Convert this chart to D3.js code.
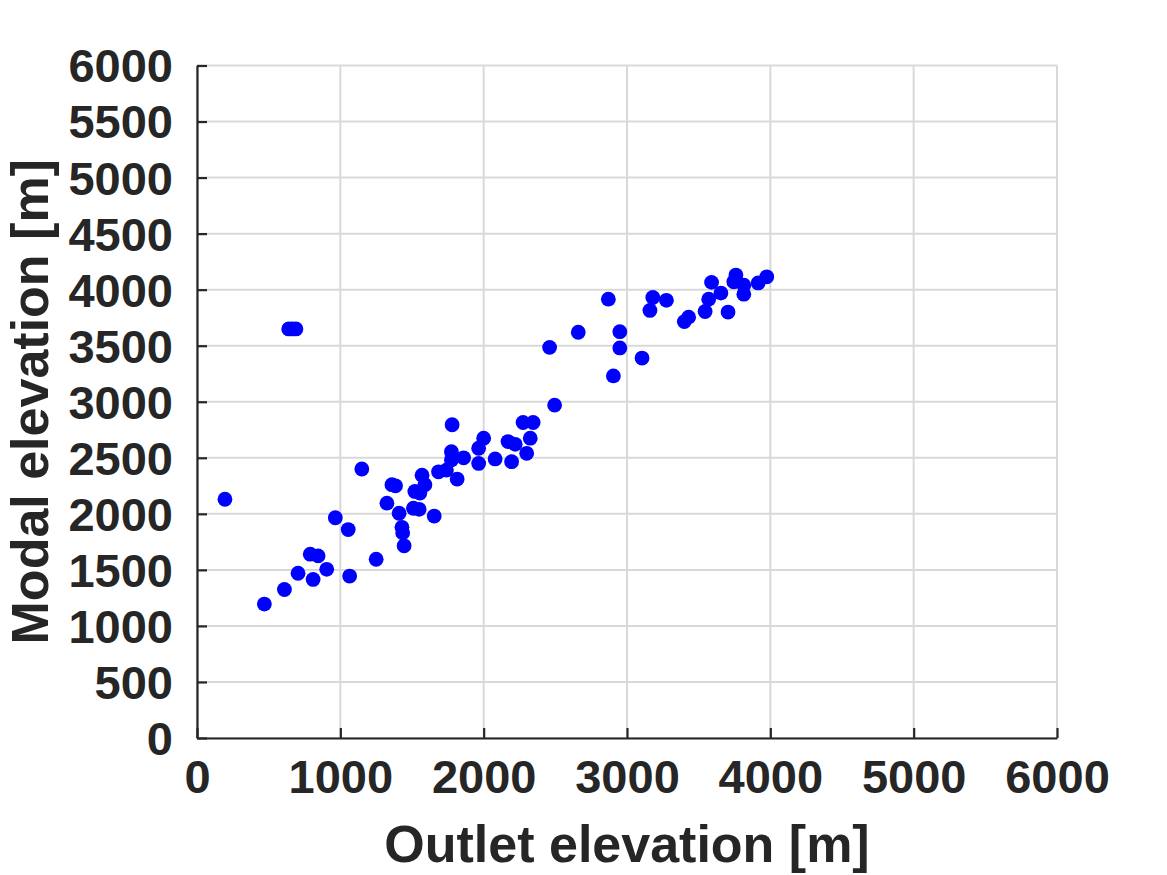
<!DOCTYPE html>
<html>
<head>
<meta charset="utf-8">
<script src="https://cdn.jsdelivr.net/npm/d3@7"></script>
<style>
  html, body { margin: 0; padding: 0; background: #ffffff; }
  svg { display: block; }
  text { font-family: "Liberation Sans", Arial, Helvetica, sans-serif; font-weight: bold; fill: #262626; }
</style>
</head>
<body>
<svg id="chart" width="1167" height="875"></svg>
<script>
// Data
const outletElevation = [195, 470, 610, 640, 665, 690, 705, 790, 810, 845, 905, 965, 1055, 1065, 1150, 1250, 1325, 1360, 1385, 1410, 1430, 1435, 1445, 1510, 1550, 1520, 1555, 1590, 1570, 1655, 1685, 1740, 1775, 1775, 1780, 1815, 1860, 1965, 1965, 2000, 2080, 2170, 2220, 2195, 2300, 2325, 2275, 2345, 2495, 2460, 2660, 2870, 2950, 2950, 2905, 3105, 3180, 3275, 3160, 3400, 3430, 3545, 3570, 3590, 3655, 3705, 3760, 3745, 3815, 3815, 3915, 3975];
const modalElevation = [2130, 1195, 1325, 3650, 3650, 3650, 1470, 1640, 1415, 1625, 1505, 1965, 1860, 1445, 2400, 1595, 2095, 2260, 2250, 2005, 1880, 1830, 1715, 2050, 2040, 2200, 2185, 2260, 2345, 1980, 2375, 2390, 2480, 2555, 2795, 2310, 2500, 2585, 2450, 2675, 2490, 2645, 2620, 2465, 2540, 2675, 2815, 2815, 2970, 3485, 3620, 3915, 3625, 3480, 3230, 3390, 3930, 3905, 3815, 3715, 3755, 3805, 3915, 4065, 3970, 3800, 4130, 4070, 4040, 3960, 4060, 4115];
const xTicks = [0, 1000, 2000, 3000, 4000, 5000, 6000];
const yTicks = [0, 500, 1000, 1500, 2000, 2500, 3000, 3500, 4000, 4500, 5000, 5500, 6000];
const xLabel = "Outlet elevation [m]";
const yLabel = "Modal elevation [m]";

(function () {
const points = outletElevation.map((v, i) => ({ x: v, y: modalElevation[i] }));

const svg = d3.select("#chart");
const pLeft = 197, pRight = 1057, pTop = 65.5, pBottom = 738;

const x = d3.scaleLinear().domain([0, 6000]).range([pLeft, pRight]);
const y = d3.scaleLinear().domain([0, 6000]).range([pBottom, pTop]);

// grid
const grid = svg.append("g");
grid.selectAll("line.gx").data(xTicks).join("line").attr("class", "gx")
  .attr("x1", d => x(d)).attr("x2", d => x(d))
  .attr("y1", pTop).attr("y2", pBottom)
  .attr("stroke", "#d9d9d9").attr("stroke-width", 2);
grid.selectAll("line.gy").data(yTicks).join("line").attr("class", "gy")
  .attr("x1", pLeft).attr("x2", pRight)
  .attr("y1", d => y(d)).attr("y2", d => y(d))
  .attr("stroke", "#d9d9d9").attr("stroke-width", 2);

// points
svg.append("g").selectAll("circle").data(points).join("circle")
  .attr("cx", d => x(d.x)).attr("cy", d => y(d.y))
  .attr("r", 7.4).attr("fill", "#0000ff");

// axes
const fmt = d3.format("d");
const xAxis = d3.axisBottom(x).tickValues(xTicks).tickFormat(fmt).tickSizeInner(-10).tickSizeOuter(0).tickPadding(22);
const yAxis = d3.axisLeft(y).tickValues(yTicks).tickFormat(fmt).tickSizeInner(-10).tickSizeOuter(0).tickPadding(24);

const gx = svg.append("g").attr("transform", `translate(0,${pBottom})`).call(xAxis);
const gy = svg.append("g").attr("transform", `translate(${pLeft},0)`).call(yAxis);

[gx, gy].forEach(g => {
  g.select(".domain").attr("stroke", "#262626").attr("stroke-width", 2.2);
  g.selectAll(".tick line").attr("stroke", "#262626").attr("stroke-width", 2.2);
  g.selectAll(".tick text")
    .attr("fill", "#262626")
    .style("font-family", "'Liberation Sans', Arial, sans-serif")
    .style("font-weight", "bold")
    .style("font-size", "47px");
});
gx.selectAll(".tick text").attr("dy", "0.71em");
gy.selectAll(".tick text").attr("dy", "0.35em");

// axis labels
svg.append("text")
  .attr("x", (pLeft + pRight) / 2).attr("y", 862)
  .attr("text-anchor", "middle")
  .style("font-size", "52px")
  .text(xLabel);

svg.append("text")
  .attr("transform", `translate(48,${(pTop + pBottom) / 2}) rotate(-90)`)
  .attr("text-anchor", "middle")
  .style("font-size", "52px")
  .text(yLabel);
})();
</script>
</body>
</html>
